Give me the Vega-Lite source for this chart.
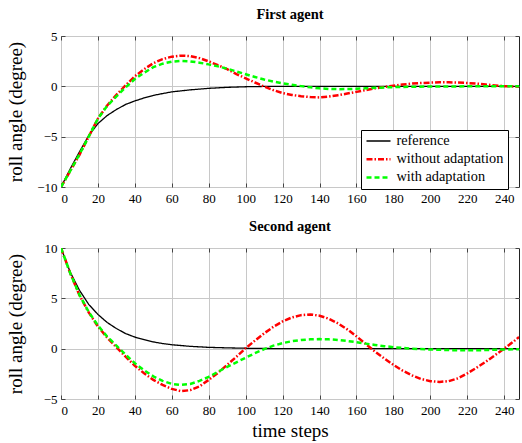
{
  "$schema": "https://vega.github.io/schema/vega-lite/v6.json",
  "padding": {"left": 5, "top": 6, "right": 0, "bottom": 0},
  "background": "white",
  "config": {
    "font": "Liberation Serif",
    "view": {"stroke": "#222", "strokeWidth": 1},
    "axis": {
      "labelFont": "Liberation Serif", "labelFontSize": 13, "labelColor": "#000",
      "titleFont": "Liberation Serif", "titleFontSize": 19, "titleFontWeight": "normal", "titleColor": "#000",
      "gridColor": "#c8c8c8", "gridWidth": 1, "gridOpacity": 1, "domain": false,
      "ticks": true, "tickSize": -4, "tickColor": "#444", "tickWidth": 1
    },
    "axisX": {"labelPadding": 9.4},
    "axisY": {"labelPadding": 8},
    "legend": {
      "labelFont": "Liberation Serif", "labelFontSize": 14.3, "labelColor": "#000",
      "strokeColor": "#000", "fillColor": "#fff", "padding": 4, "rowPadding": 3.2,
      "symbolType": "stroke", "symbolSize": 576, "clipHeight": 14, "labelOffset": 4.5, "labelLimit": 300
    },
    "title": {"font": "Liberation Serif", "fontSize": 14.5, "fontWeight": "bold", "color": "#000", "offset": 8, "anchor": "middle"}
  },
  "data": {"values": [
    {"p":"A","s":"reference","t":0,"v":-10},{"p":"A","s":"reference","t":5,"v":-8.2},{"p":"A","s":"reference","t":10,"v":-6.5},{"p":"A","s":"reference","t":15,"v":-4.9},{"p":"A","s":"reference","t":20,"v":-3.7},{"p":"A","s":"reference","t":25,"v":-2.9},{"p":"A","s":"reference","t":30,"v":-2.3},{"p":"A","s":"reference","t":35,"v":-1.8},{"p":"A","s":"reference","t":40,"v":-1.45},{"p":"A","s":"reference","t":45,"v":-1.15},{"p":"A","s":"reference","t":50,"v":-0.9},{"p":"A","s":"reference","t":55,"v":-0.72},{"p":"A","s":"reference","t":60,"v":-0.55},{"p":"A","s":"reference","t":70,"v":-0.35},{"p":"A","s":"reference","t":80,"v":-0.2},{"p":"A","s":"reference","t":90,"v":-0.1},{"p":"A","s":"reference","t":100,"v":-0.04},{"p":"A","s":"reference","t":110,"v":-0.01},{"p":"A","s":"reference","t":120,"v":0},{"p":"A","s":"reference","t":248,"v":0},
    {"p":"A","s":"without adaptation","t":0,"v":-10},{"p":"A","s":"without adaptation","t":5,"v":-8.4},{"p":"A","s":"without adaptation","t":10,"v":-6.8},{"p":"A","s":"without adaptation","t":15,"v":-5.0},{"p":"A","s":"without adaptation","t":20,"v":-3.2},{"p":"A","s":"without adaptation","t":25,"v":-1.9},{"p":"A","s":"without adaptation","t":30,"v":-0.85},{"p":"A","s":"without adaptation","t":35,"v":0.1},{"p":"A","s":"without adaptation","t":40,"v":1.0},{"p":"A","s":"without adaptation","t":45,"v":1.7},{"p":"A","s":"without adaptation","t":50,"v":2.3},{"p":"A","s":"without adaptation","t":55,"v":2.7},{"p":"A","s":"without adaptation","t":60,"v":2.95},{"p":"A","s":"without adaptation","t":65,"v":3.05},{"p":"A","s":"without adaptation","t":70,"v":3.0},{"p":"A","s":"without adaptation","t":75,"v":2.8},{"p":"A","s":"without adaptation","t":80,"v":2.48},{"p":"A","s":"without adaptation","t":85,"v":2.1},{"p":"A","s":"without adaptation","t":90,"v":1.7},{"p":"A","s":"without adaptation","t":95,"v":1.22},{"p":"A","s":"without adaptation","t":100,"v":0.8},{"p":"A","s":"without adaptation","t":105,"v":0.38},{"p":"A","s":"without adaptation","t":110,"v":-0.02},{"p":"A","s":"without adaptation","t":115,"v":-0.38},{"p":"A","s":"without adaptation","t":120,"v":-0.67},{"p":"A","s":"without adaptation","t":125,"v":-0.86},{"p":"A","s":"without adaptation","t":130,"v":-0.98},{"p":"A","s":"without adaptation","t":135,"v":-1.07},{"p":"A","s":"without adaptation","t":140,"v":-1.1},{"p":"A","s":"without adaptation","t":145,"v":-1.02},{"p":"A","s":"without adaptation","t":150,"v":-0.88},{"p":"A","s":"without adaptation","t":155,"v":-0.72},{"p":"A","s":"without adaptation","t":160,"v":-0.55},{"p":"A","s":"without adaptation","t":165,"v":-0.37},{"p":"A","s":"without adaptation","t":170,"v":-0.2},{"p":"A","s":"without adaptation","t":175,"v":-0.06},{"p":"A","s":"without adaptation","t":180,"v":0.05},{"p":"A","s":"without adaptation","t":185,"v":0.18},{"p":"A","s":"without adaptation","t":190,"v":0.27},{"p":"A","s":"without adaptation","t":195,"v":0.33},{"p":"A","s":"without adaptation","t":200,"v":0.37},{"p":"A","s":"without adaptation","t":205,"v":0.4},{"p":"A","s":"without adaptation","t":210,"v":0.4},{"p":"A","s":"without adaptation","t":215,"v":0.37},{"p":"A","s":"without adaptation","t":220,"v":0.33},{"p":"A","s":"without adaptation","t":225,"v":0.27},{"p":"A","s":"without adaptation","t":230,"v":0.18},{"p":"A","s":"without adaptation","t":235,"v":0.09},{"p":"A","s":"without adaptation","t":240,"v":0.02},{"p":"A","s":"without adaptation","t":248,"v":-0.03},
    {"p":"A","s":"with adaptation","t":0,"v":-10},{"p":"A","s":"with adaptation","t":5,"v":-8.4},{"p":"A","s":"with adaptation","t":10,"v":-6.75},{"p":"A","s":"with adaptation","t":15,"v":-5.0},{"p":"A","s":"with adaptation","t":20,"v":-3.2},{"p":"A","s":"with adaptation","t":25,"v":-1.95},{"p":"A","s":"with adaptation","t":30,"v":-1.0},{"p":"A","s":"with adaptation","t":35,"v":-0.1},{"p":"A","s":"with adaptation","t":40,"v":0.72},{"p":"A","s":"with adaptation","t":45,"v":1.35},{"p":"A","s":"with adaptation","t":50,"v":1.9},{"p":"A","s":"with adaptation","t":55,"v":2.25},{"p":"A","s":"with adaptation","t":60,"v":2.45},{"p":"A","s":"with adaptation","t":65,"v":2.52},{"p":"A","s":"with adaptation","t":70,"v":2.48},{"p":"A","s":"with adaptation","t":75,"v":2.35},{"p":"A","s":"with adaptation","t":80,"v":2.18},{"p":"A","s":"with adaptation","t":85,"v":1.98},{"p":"A","s":"with adaptation","t":90,"v":1.75},{"p":"A","s":"with adaptation","t":95,"v":1.48},{"p":"A","s":"with adaptation","t":100,"v":1.2},{"p":"A","s":"with adaptation","t":105,"v":0.93},{"p":"A","s":"with adaptation","t":110,"v":0.68},{"p":"A","s":"with adaptation","t":115,"v":0.47},{"p":"A","s":"with adaptation","t":120,"v":0.3},{"p":"A","s":"with adaptation","t":125,"v":0.15},{"p":"A","s":"with adaptation","t":130,"v":0.02},{"p":"A","s":"with adaptation","t":135,"v":-0.1},{"p":"A","s":"with adaptation","t":140,"v":-0.2},{"p":"A","s":"with adaptation","t":145,"v":-0.26},{"p":"A","s":"with adaptation","t":150,"v":-0.28},{"p":"A","s":"with adaptation","t":155,"v":-0.27},{"p":"A","s":"with adaptation","t":160,"v":-0.24},{"p":"A","s":"with adaptation","t":165,"v":-0.2},{"p":"A","s":"with adaptation","t":170,"v":-0.15},{"p":"A","s":"with adaptation","t":175,"v":-0.11},{"p":"A","s":"with adaptation","t":180,"v":-0.08},{"p":"A","s":"with adaptation","t":190,"v":-0.04},{"p":"A","s":"with adaptation","t":200,"v":-0.02},{"p":"A","s":"with adaptation","t":210,"v":-0.01},{"p":"A","s":"with adaptation","t":220,"v":0},{"p":"A","s":"with adaptation","t":248,"v":0},
    {"p":"B","s":"reference","t":0,"v":10},{"p":"B","s":"reference","t":5,"v":7.6},{"p":"B","s":"reference","t":10,"v":5.8},{"p":"B","s":"reference","t":15,"v":4.4},{"p":"B","s":"reference","t":20,"v":3.4},{"p":"B","s":"reference","t":25,"v":2.6},{"p":"B","s":"reference","t":30,"v":2.0},{"p":"B","s":"reference","t":35,"v":1.5},{"p":"B","s":"reference","t":40,"v":1.15},{"p":"B","s":"reference","t":45,"v":0.9},{"p":"B","s":"reference","t":50,"v":0.67},{"p":"B","s":"reference","t":55,"v":0.51},{"p":"B","s":"reference","t":60,"v":0.39},{"p":"B","s":"reference","t":70,"v":0.23},{"p":"B","s":"reference","t":80,"v":0.13},{"p":"B","s":"reference","t":90,"v":0.08},{"p":"B","s":"reference","t":100,"v":0.04},{"p":"B","s":"reference","t":110,"v":0.02},{"p":"B","s":"reference","t":120,"v":0},{"p":"B","s":"reference","t":248,"v":0},
    {"p":"B","s":"without adaptation","t":0,"v":10},{"p":"B","s":"without adaptation","t":5,"v":7.5},{"p":"B","s":"without adaptation","t":10,"v":5.3},{"p":"B","s":"without adaptation","t":15,"v":3.6},{"p":"B","s":"without adaptation","t":20,"v":2.2},{"p":"B","s":"without adaptation","t":25,"v":1.1},{"p":"B","s":"without adaptation","t":30,"v":0.15},{"p":"B","s":"without adaptation","t":35,"v":-0.8},{"p":"B","s":"without adaptation","t":40,"v":-1.7},{"p":"B","s":"without adaptation","t":45,"v":-2.45},{"p":"B","s":"without adaptation","t":50,"v":-3.1},{"p":"B","s":"without adaptation","t":55,"v":-3.6},{"p":"B","s":"without adaptation","t":60,"v":-4.0},{"p":"B","s":"without adaptation","t":65,"v":-4.22},{"p":"B","s":"without adaptation","t":70,"v":-4.12},{"p":"B","s":"without adaptation","t":75,"v":-3.75},{"p":"B","s":"without adaptation","t":80,"v":-3.1},{"p":"B","s":"without adaptation","t":85,"v":-2.4},{"p":"B","s":"without adaptation","t":90,"v":-1.6},{"p":"B","s":"without adaptation","t":95,"v":-0.8},{"p":"B","s":"without adaptation","t":100,"v":0.05},{"p":"B","s":"without adaptation","t":105,"v":0.8},{"p":"B","s":"without adaptation","t":110,"v":1.52},{"p":"B","s":"without adaptation","t":115,"v":2.17},{"p":"B","s":"without adaptation","t":120,"v":2.71},{"p":"B","s":"without adaptation","t":125,"v":3.1},{"p":"B","s":"without adaptation","t":130,"v":3.33},{"p":"B","s":"without adaptation","t":135,"v":3.4},{"p":"B","s":"without adaptation","t":140,"v":3.27},{"p":"B","s":"without adaptation","t":145,"v":2.97},{"p":"B","s":"without adaptation","t":150,"v":2.51},{"p":"B","s":"without adaptation","t":155,"v":1.92},{"p":"B","s":"without adaptation","t":160,"v":1.23},{"p":"B","s":"without adaptation","t":165,"v":0.47},{"p":"B","s":"without adaptation","t":170,"v":-0.28},{"p":"B","s":"without adaptation","t":175,"v":-0.97},{"p":"B","s":"without adaptation","t":180,"v":-1.61},{"p":"B","s":"without adaptation","t":185,"v":-2.18},{"p":"B","s":"without adaptation","t":190,"v":-2.65},{"p":"B","s":"without adaptation","t":195,"v":-3.01},{"p":"B","s":"without adaptation","t":200,"v":-3.23},{"p":"B","s":"without adaptation","t":205,"v":-3.3},{"p":"B","s":"without adaptation","t":210,"v":-3.22},{"p":"B","s":"without adaptation","t":215,"v":-2.95},{"p":"B","s":"without adaptation","t":220,"v":-2.45},{"p":"B","s":"without adaptation","t":225,"v":-1.9},{"p":"B","s":"without adaptation","t":230,"v":-1.3},{"p":"B","s":"without adaptation","t":235,"v":-0.65},{"p":"B","s":"without adaptation","t":240,"v":0.02},{"p":"B","s":"without adaptation","t":245,"v":0.7},{"p":"B","s":"without adaptation","t":248,"v":1.15},
    {"p":"B","s":"with adaptation","t":0,"v":10},{"p":"B","s":"with adaptation","t":5,"v":7.5},{"p":"B","s":"with adaptation","t":10,"v":5.35},{"p":"B","s":"with adaptation","t":15,"v":3.65},{"p":"B","s":"with adaptation","t":20,"v":2.3},{"p":"B","s":"with adaptation","t":25,"v":1.2},{"p":"B","s":"with adaptation","t":30,"v":0.3},{"p":"B","s":"with adaptation","t":35,"v":-0.6},{"p":"B","s":"with adaptation","t":40,"v":-1.45},{"p":"B","s":"with adaptation","t":45,"v":-2.15},{"p":"B","s":"with adaptation","t":50,"v":-2.75},{"p":"B","s":"with adaptation","t":55,"v":-3.2},{"p":"B","s":"with adaptation","t":60,"v":-3.5},{"p":"B","s":"with adaptation","t":65,"v":-3.6},{"p":"B","s":"with adaptation","t":70,"v":-3.5},{"p":"B","s":"with adaptation","t":75,"v":-3.2},{"p":"B","s":"with adaptation","t":80,"v":-2.8},{"p":"B","s":"with adaptation","t":85,"v":-2.3},{"p":"B","s":"with adaptation","t":90,"v":-1.8},{"p":"B","s":"with adaptation","t":95,"v":-1.35},{"p":"B","s":"with adaptation","t":100,"v":-0.9},{"p":"B","s":"with adaptation","t":105,"v":-0.45},{"p":"B","s":"with adaptation","t":110,"v":-0.05},{"p":"B","s":"with adaptation","t":115,"v":0.3},{"p":"B","s":"with adaptation","t":120,"v":0.55},{"p":"B","s":"with adaptation","t":125,"v":0.74},{"p":"B","s":"with adaptation","t":130,"v":0.86},{"p":"B","s":"with adaptation","t":135,"v":0.93},{"p":"B","s":"with adaptation","t":140,"v":0.95},{"p":"B","s":"with adaptation","t":145,"v":0.93},{"p":"B","s":"with adaptation","t":150,"v":0.86},{"p":"B","s":"with adaptation","t":155,"v":0.76},{"p":"B","s":"with adaptation","t":160,"v":0.64},{"p":"B","s":"with adaptation","t":165,"v":0.5},{"p":"B","s":"with adaptation","t":170,"v":0.37},{"p":"B","s":"with adaptation","t":175,"v":0.25},{"p":"B","s":"with adaptation","t":180,"v":0.15},{"p":"B","s":"with adaptation","t":185,"v":0.07},{"p":"B","s":"with adaptation","t":190,"v":0.0},{"p":"B","s":"with adaptation","t":200,"v":-0.08},{"p":"B","s":"with adaptation","t":210,"v":-0.14},{"p":"B","s":"with adaptation","t":220,"v":-0.17},{"p":"B","s":"with adaptation","t":230,"v":-0.14},{"p":"B","s":"with adaptation","t":240,"v":-0.08},{"p":"B","s":"with adaptation","t":248,"v":-0.05}
  ]},
  "resolve": {"legend": {"color": "independent", "strokeDash": "independent", "strokeWidth": "independent"}},
  "spacing": 12,
  "vconcat": [
    {
      "width": 458, "height": 151,
      "title": {"text": "First agent"},
      "transform": [{"filter": "datum.p == 'A'"}],
      "layer": [
        {
          "mark": {"type": "line", "clip": true},
          "encoding": {
            "x": {"field": "t", "type": "quantitative", "scale": {"domain": [0, 248], "nice": false},
                  "axis": {"values": [0,20,40,60,80,100,120,140,160,180,200,220,240], "title": null}},
            "y": {"field": "v", "type": "quantitative", "scale": {"domain": [-10, 5], "nice": false},
                  "axis": {"values": [-10,-5,0,5], "title": "roll angle (degree)", "titleX": -40, "titleY": 75.5, "titleBaseline": "alphabetic", "titleAlign": "center", "titleAngle": 270}},
            "color": {"field": "s", "type": "nominal", "scale": {"domain": ["reference","without adaptation","with adaptation"], "range": ["#000000","#ff0000","#00ff00"]},
                      "legend": {"orient": "none", "legendX": 300, "legendY": 94, "title": null}},
            "strokeDash": {"field": "s", "type": "nominal", "scale": {"domain": ["reference","without adaptation","with adaptation"], "range": [[1,0],[6,2,1.5,2],[5,3]]},
                      "legend": {"orient": "none", "legendX": 300, "legendY": 94, "title": null}},
            "strokeWidth": {"field": "s", "type": "nominal", "scale": {"type": "ordinal", "domain": ["reference","without adaptation","with adaptation"], "range": [1.3,2.5,2.5]},
                      "legend": {"orient": "none", "legendX": 300, "legendY": 94, "title": null}}
          }
        },
        {
          "mark": {"type": "point", "opacity": 0, "clip": true},
          "encoding": {
            "x": {"field": "t", "type": "quantitative", "axis": {"orient": "top", "values": [0,20,40,60,80,100,120,140,160,180,200,220,240], "labels": false, "grid": false, "title": null}},
            "y": {"field": "v", "type": "quantitative", "axis": {"orient": "right", "values": [-10,-5,0,5], "labels": false, "grid": false, "title": null}}
          }
        }
      ],
      "resolve": {"axis": {"x": "independent", "y": "independent"}}
    },
    {
      "width": 458, "height": 151,
      "title": {"text": "Second agent"},
      "transform": [{"filter": "datum.p == 'B'"}],
      "layer": [
        {
          "mark": {"type": "line", "clip": true},
          "encoding": {
            "x": {"field": "t", "type": "quantitative", "scale": {"domain": [0, 248], "nice": false},
                  "axis": {"values": [0,20,40,60,80,100,120,140,160,180,200,220,240], "title": "time steps", "titleY": 37.7, "titleX": 229, "titleBaseline": "alphabetic"}},
            "y": {"field": "v", "type": "quantitative", "scale": {"domain": [-5, 10], "nice": false},
                  "axis": {"values": [-5,0,5,10], "title": "roll angle (degree)", "titleX": -40, "titleY": 75.5, "titleBaseline": "alphabetic", "titleAlign": "center", "titleAngle": 270}},
            "color": {"field": "s", "type": "nominal", "scale": {"domain": ["reference","without adaptation","with adaptation"], "range": ["#000000","#ff0000","#00ff00"]}, "legend": null},
            "strokeDash": {"field": "s", "type": "nominal", "scale": {"domain": ["reference","without adaptation","with adaptation"], "range": [[1,0],[6,2,1.5,2],[5,3]]}, "legend": null},
            "strokeWidth": {"field": "s", "type": "nominal", "scale": {"type": "ordinal", "domain": ["reference","without adaptation","with adaptation"], "range": [1.3,2.5,2.5]}, "legend": null}
          }
        },
        {
          "mark": {"type": "point", "opacity": 0, "clip": true},
          "encoding": {
            "x": {"field": "t", "type": "quantitative", "axis": {"orient": "top", "values": [0,20,40,60,80,100,120,140,160,180,200,220,240], "labels": false, "grid": false, "title": null}},
            "y": {"field": "v", "type": "quantitative", "axis": {"orient": "right", "values": [-5,0,5,10], "labels": false, "grid": false, "title": null}}
          }
        }
      ],
      "resolve": {"axis": {"x": "independent", "y": "independent"}}
    }
  ]
}
